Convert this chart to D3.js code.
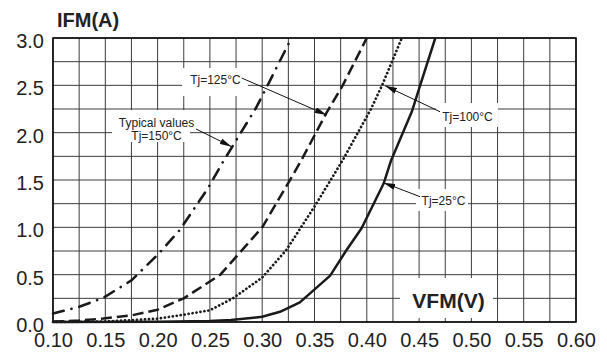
<!DOCTYPE html>
<html>
<head>
<meta charset="utf-8">
<script src="https://cdn.jsdelivr.net/npm/d3@7"></script>
<style>
  html, body { margin: 0; padding: 0; background: #fff; }
  svg { display: block; font-family: "Liberation Sans", Arial, sans-serif; }
</style>
</head>
<body>
<svg id="chart" width="607" height="356"></svg>
<script>
// ---------- data (VFM in V, IFM in A) ----------
const xTickValues = [0.10, 0.15, 0.20, 0.25, 0.30, 0.35, 0.40, 0.45, 0.50, 0.55, 0.60];
const yTickValues = [0.0, 0.5, 1.0, 1.5, 2.0, 2.5, 3.0];

const tj25 = [[0.10,0.0],[0.20,0.003],[0.25,0.01],[0.27,0.02],[0.30,0.055],[0.317,0.108],[0.336,0.207],
              [0.365,0.49],[0.38,0.75],[0.395,0.99],[0.416,1.46],[0.423,1.70],[0.443,2.22],[0.451,2.50],[0.4655,3.0]];
const tj100 = [[0.10,0.0],[0.15,0.005],[0.20,0.035],[0.225,0.077],[0.25,0.124],[0.272,0.25],[0.30,0.47],
               [0.323,0.76],[0.35,1.22],[0.377,1.71],[0.404,2.25],[0.4146,2.50],[0.4335,3.0]];
const tj125 = [[0.10,0.005],[0.125,0.015],[0.148,0.037],[0.175,0.07],[0.199,0.126],[0.225,0.25],[0.26,0.50],
               [0.30,1.0],[0.325,1.47],[0.337,1.70],[0.361,2.20],[0.377,2.50],[0.40,3.0]];
const tj150 = [[0.10,0.09],[0.125,0.16],[0.148,0.255],[0.175,0.44],[0.20,0.71],[0.221,0.97],[0.248,1.41],
               [0.263,1.70],[0.294,2.26],[0.307,2.54],[0.328,3.0]];

const seriesNames = ["Tj=25°C", "Tj=100°C", "Tj=125°C", "Tj=150°C"];

// annotation labels: text lines, anchor (V, A), white box (V0, V1, A0, A1), arrow tail/tip (V, A)
const labelTexts = [["Tj=125°C"], ["Tj=100°C"], ["Tj=25°C"], ["Typical values", "Tj=150°C"]];
const labelAnchors = [[0.2553, 2.519], [0.4963, 2.123], [0.4733, 1.241], [0.199, 2.065]];
const labelBoxes = [[0.2233, 0.2864, 2.387, 2.683], [0.4662, 0.5254, 2.06, 2.313],
                    [0.447, 0.4967, 1.173, 1.405], [0.1564, 0.231, 1.901, 2.239]];
const arrowTails = [[0.2804, 2.577], [0.470, 2.221], [0.4509, 1.324], [0.2367, 2.039]];
const arrowTips  = [[0.3617, 2.187], [0.4174, 2.496], [0.4158, 1.472], [0.2708, 1.852]];

const xTitle = "VFM(V)", yTitle = "IFM(A)";
const xTitlePos = [0.4781, 0.148];
const xTitleBox = [0.4317, 0.5206, 0.042, 0.465];

// ---------- layout ----------
const svg = d3.select("#chart");
const L = 53, R = 576, T = 38, B = 322;
const x = d3.scaleLinear().domain([0.10, 0.60]).range([L, R]);
const y = d3.scaleLinear().domain([0, 3.0]).range([B, T]);

// grid
const g = svg.append("g");
g.selectAll("line.vg").data(d3.range(0, 21).map(i => 0.10 + i * 0.025)).join("line")
  .attr("x1", d => x(d)).attr("x2", d => x(d)).attr("y1", T).attr("y2", B)
  .attr("stroke", "#3c3c3c").attr("stroke-width", 1);
g.selectAll("line.hg").data(d3.range(0, 13).map(i => i * 0.25)).join("line")
  .attr("x1", L).attr("x2", R).attr("y1", d => y(d)).attr("y2", d => y(d))
  .attr("stroke", "#3c3c3c").attr("stroke-width", 1);

// white boxes under labels
const boxes = labelBoxes.concat([xTitleBox]);
svg.append("g").selectAll("rect").data(boxes).join("rect")
  .attr("x", d => x(d[0])).attr("y", d => y(d[3]))
  .attr("width", d => x(d[1]) - x(d[0])).attr("height", d => y(d[2]) - y(d[3]))
  .attr("fill", "#fff");

// frame
svg.append("rect").attr("x", L).attr("y", T).attr("width", R - L).attr("height", B - T)
  .attr("fill", "none").attr("stroke", "#000").attr("stroke-width", 1.5);

// curves
const line = d3.line().x(d => x(d[0])).y(d => y(d[1])).curve(d3.curveLinear);
const curveData = [tj25, tj100, tj125, tj150];
const dashes = [null, "0.1,3.9", "11,5", "11,8,0.1,8"];
const widths = [2.5, 2.7, 2.5, 2.6];
const caps = ["butt", "round", "butt", "round"];
svg.append("g").selectAll("path").data(curveData).join("path")
  .attr("d", line)
  .attr("fill", "none")
  .attr("stroke", "#1a1a1a")
  .attr("stroke-width", (d, i) => widths[i])
  .attr("stroke-dasharray", (d, i) => dashes[i])
  .attr("stroke-linecap", (d, i) => caps[i])
  .attr("stroke-linejoin", "round");

// arrows
const defs = svg.append("defs");
defs.append("marker").attr("id", "ah").attr("viewBox", "0 0 12 6")
  .attr("refX", 12).attr("refY", 3).attr("markerWidth", 12).attr("markerHeight", 6)
  .attr("markerUnits", "userSpaceOnUse").attr("orient", "auto")
  .append("path").attr("d", "M0,0 L12,3 L0,6 Z").attr("fill", "#111");
svg.append("g").selectAll("line").data(arrowTails).join("line")
  .attr("x1", d => x(d[0])).attr("y1", d => y(d[1]))
  .attr("x2", (d, i) => x(arrowTips[i][0])).attr("y2", (d, i) => y(arrowTips[i][1]))
  .attr("stroke", "#111").attr("stroke-width", 1).attr("marker-end", "url(#ah)");

// label texts
const lt = svg.append("g").attr("font-size", 12).attr("fill", "#222").attr("text-anchor", "middle");
labelTexts.forEach((lines, i) => {
  const t = lt.append("text").attr("x", x(labelAnchors[i][0])).attr("y", y(labelAnchors[i][1]));
  lines.forEach((s, j) => t.append("tspan").attr("x", x(labelAnchors[i][0])).attr("dy", j ? 13 : 0).text(s));
});

// axes
const xAxis = d3.axisBottom(x).tickValues(xTickValues).tickFormat(d3.format(".2f")).tickSize(0).tickPadding(11);
const gx = svg.append("g").attr("transform", `translate(0,${B})`).call(xAxis);
gx.select(".domain").remove();
gx.selectAll("text").attr("font-size", 20).attr("fill", "#222").attr("font-family", "Liberation Sans, Arial, sans-serif");

const yAxis = d3.axisLeft(y).tickValues(yTickValues).tickFormat(d3.format(".1f")).tickSize(0).tickPadding(9);
const gy = svg.append("g").attr("transform", `translate(${L},0)`).call(yAxis);
gy.select(".domain").remove();
gy.selectAll("text").attr("font-size", 20).attr("fill", "#222").attr("dy", "0.47em")
  .attr("font-family", "Liberation Sans, Arial, sans-serif");

// titles
svg.append("text").attr("x", 57).attr("y", 27).attr("font-size", 20).attr("font-weight", "bold")
  .attr("fill", "#222").text(yTitle);
svg.append("text").attr("x", x(xTitlePos[0])).attr("y", y(xTitlePos[1])).attr("text-anchor", "middle")
  .attr("font-size", 21).attr("font-weight", "bold").attr("fill", "#222").text(xTitle);
</script>
</body>
</html>
